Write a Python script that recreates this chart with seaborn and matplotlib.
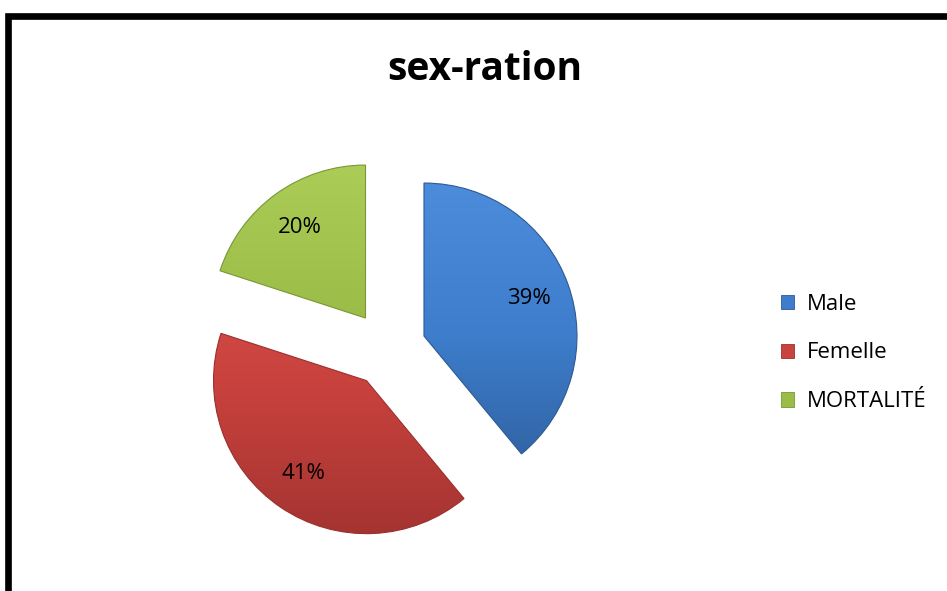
import numpy as np
import matplotlib
matplotlib.use("Agg")
import matplotlib.pyplot as plt
from matplotlib.colors import LinearSegmentedColormap
from matplotlib.patches import Rectangle, Patch
import seaborn as sns

# data
categories = ["Male", "Femelle", "MORTALITÉ"]
shares = [39, 41, 20]
explode = [0.25, 0.25, 0.25]

# colours (light top -> dark bottom, like the excel bevel)
colors_top = ["#4c8cda", "#dc524d", "#abcd58"]
colors_mid = ["#3d7dcb", "#c9423e", "#9bbd47"]
colors_bottom = ["#2f5e9c", "#a53431", "#82a03a"]
colors_edge = ["#2c5a94", "#9a302d", "#7a9636"]

sns.set_theme(style="white")
plt.rcParams['font.family'] = ['Open Sans', 'DejaVu Sans']
plt.rcParams['text.color'] = 'black'

W, H = 947, 591
fig = plt.figure(figsize=(W / 100, H / 100), dpi=100)
fig.patch.set_facecolor("white")

# pie axes: centre around (388, 349) px, radius 153 px
ax = fig.add_axes([188 / W, (H - 549) / H, 400 / W, 400 / H])
wedges, texts, autotexts = ax.pie(
    shares, explode=explode, startangle=90, counterclock=False,
    colors=colors_mid, autopct="%1.0f%%", pctdistance=0.73, radius=1.0,
    textprops=dict(fontsize=16, color="black"))

grad = np.linspace(0, 1, 256).reshape(-1, 1)
for w, c0, c1, c2, ce in zip(wedges, colors_bottom, colors_mid, colors_top, colors_edge):
    cx, cy = w.center
    r = w.r
    cmap = LinearSegmentedColormap.from_list("g", [c0, c1, c2])
    im = ax.imshow(grad, extent=[cx - r, cx + r, cy - r, cy + r], origin="lower",
                   cmap=cmap, aspect="auto", zorder=1, interpolation="bilinear")
    im.set_clip_path(w)
    w.set_facecolor("none")
    w.set_edgecolor(ce)
    w.set_linewidth(0.8)
    w.set_zorder(2)

for t in autotexts:
    t.set_zorder(3)

lim = 200 / 153
ax.set_xlim(-lim, lim)
ax.set_ylim(-lim, lim)
ax.axis("off")

# title
fig.text(485 / W, 1 - 70 / H, "sex-ration", ha="center", va="center",
         fontsize=28, fontweight="bold", color="black")

# legend
handles = [Patch(facecolor=c, edgecolor=e, linewidth=0.6) for c, e in zip(colors_mid, colors_edge)]
leg = fig.legend(handles, categories, loc="center left", bbox_to_anchor=(772 / W, 1 - 353 / H),
                 frameon=False, fontsize=16, labelspacing=1.25, handlelength=0.6,
                 handleheight=0.6, handletextpad=0.55, borderaxespad=0)
for t in leg.get_texts():
    t.set_color("black")

# outer frame, cut by the right and bottom edges
frame = Rectangle((8 / W, -0.1), 1.5, (1 - 15.5 / H) + 0.1, transform=fig.transFigure,
                  fill=False, edgecolor="black", linewidth=4.8)
fig.patches.append(frame)

fig.savefig("out.png", dpi=100, facecolor="white")
